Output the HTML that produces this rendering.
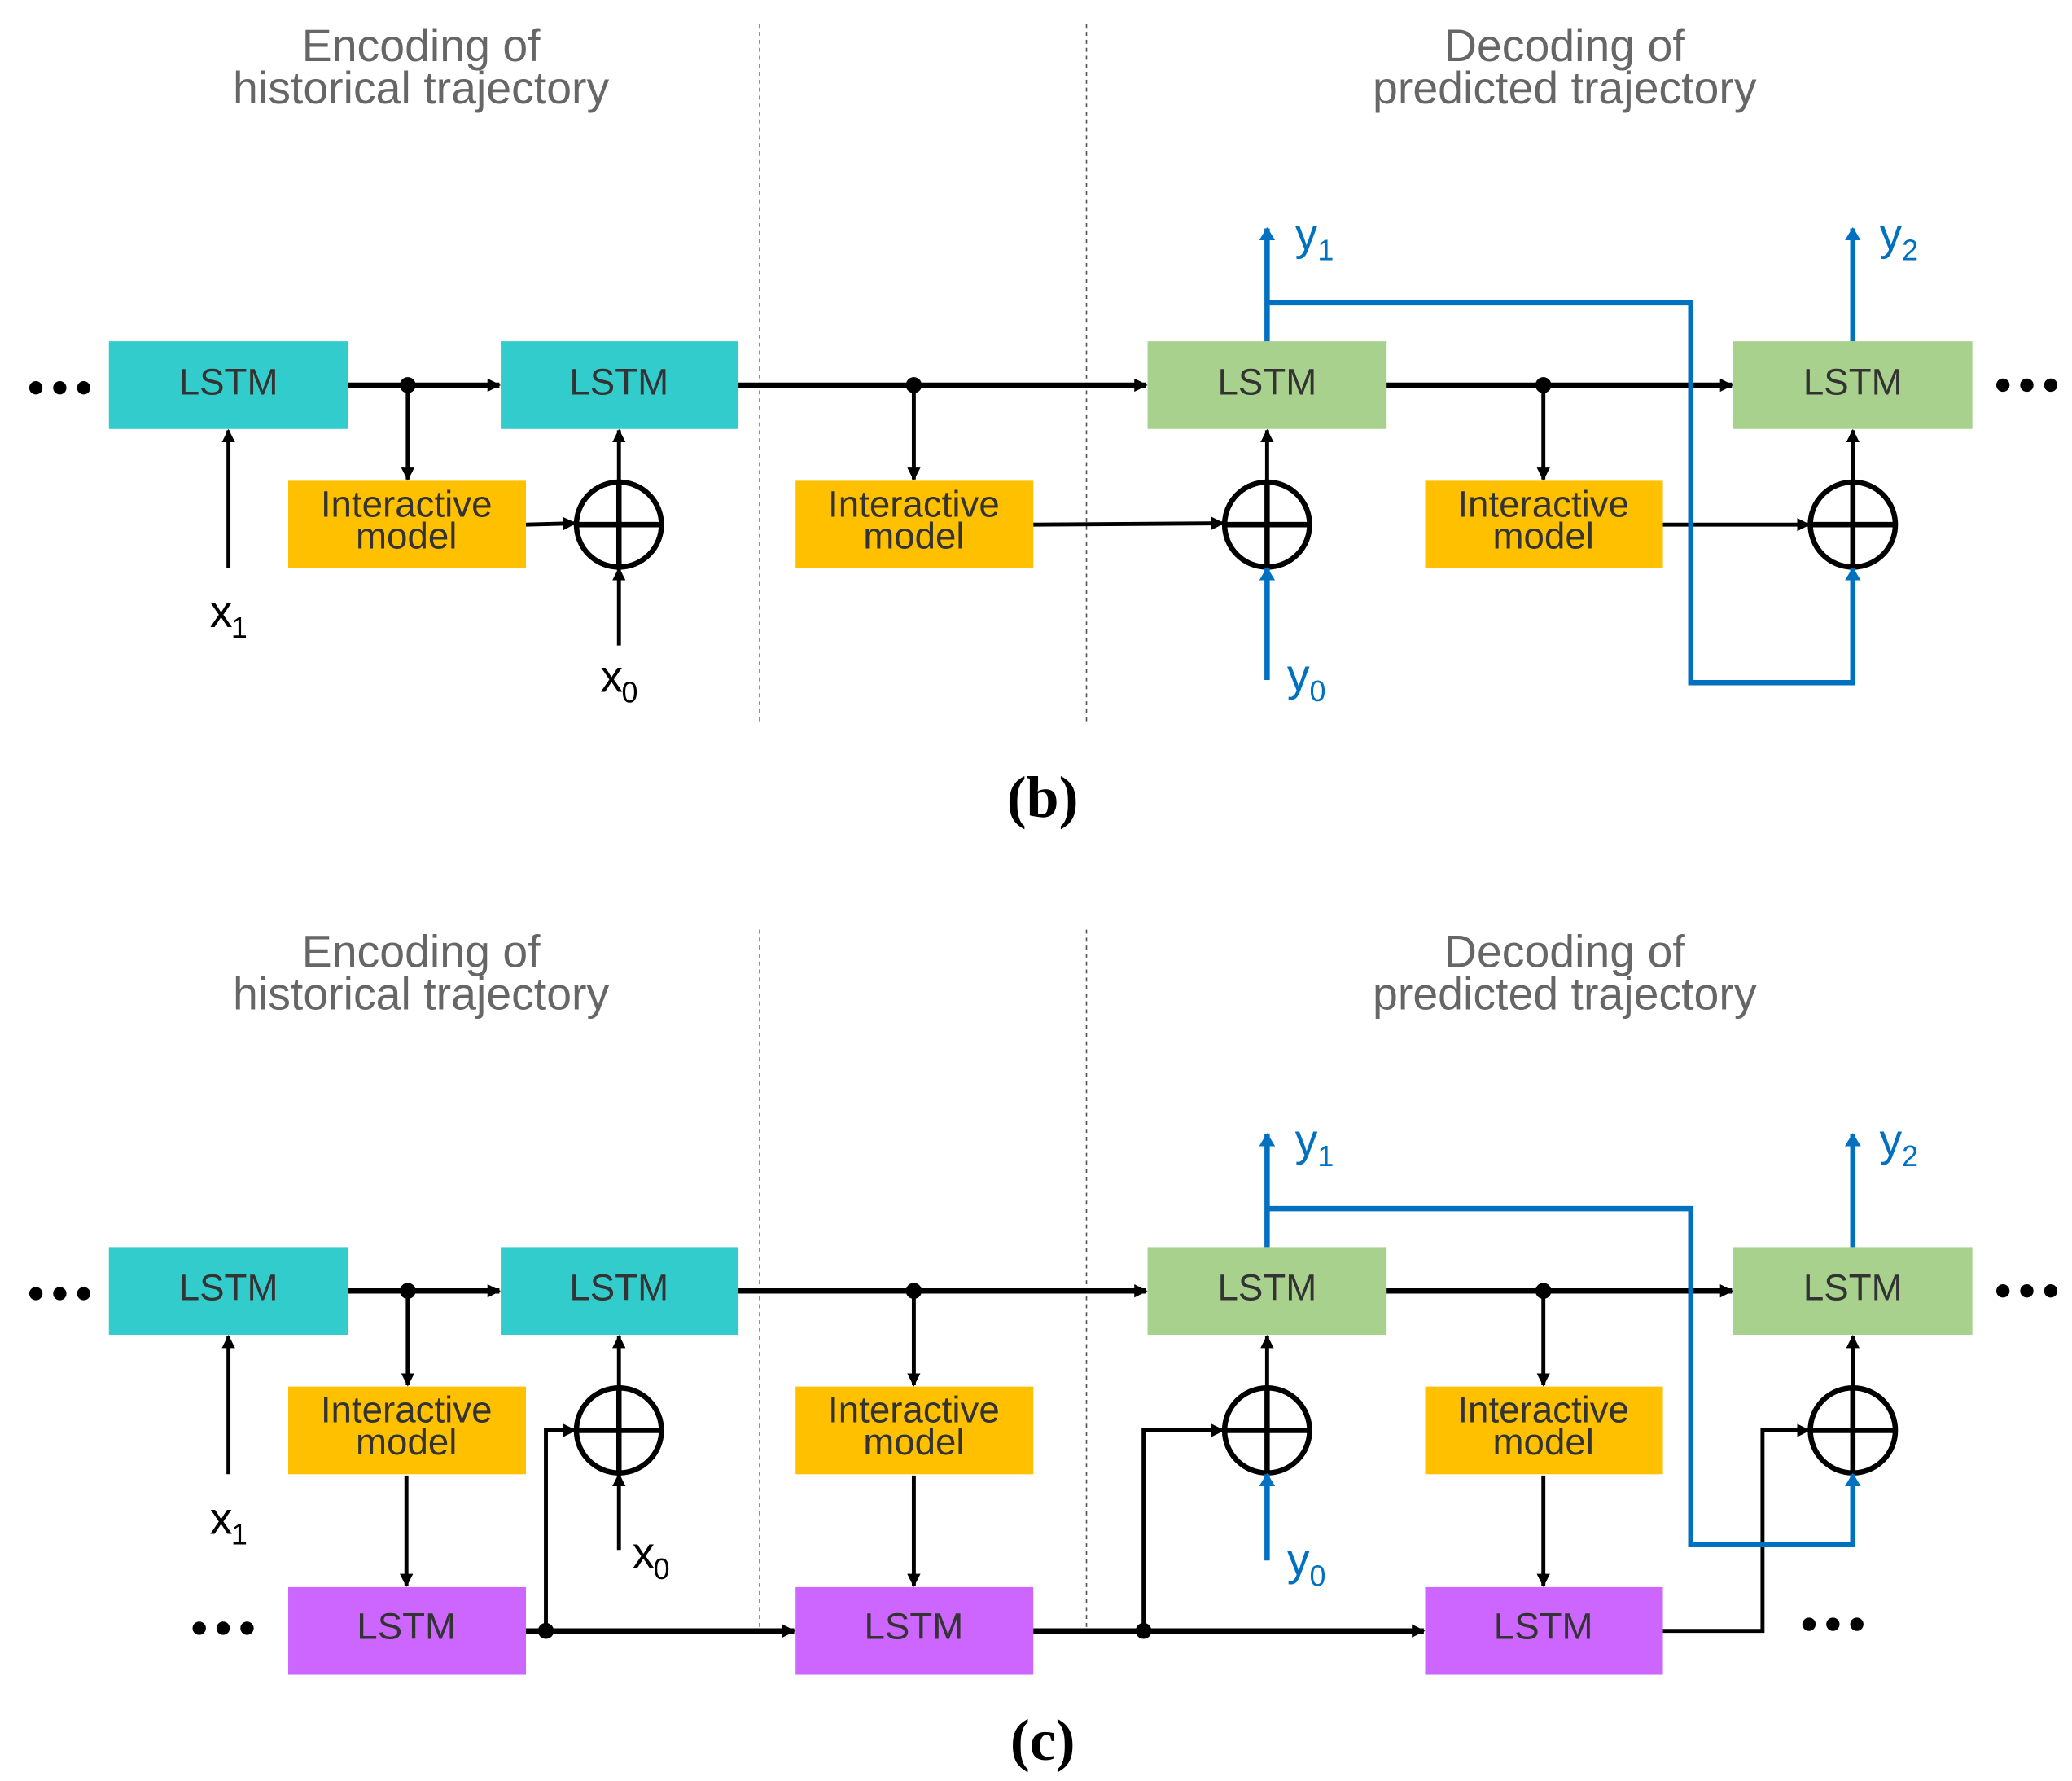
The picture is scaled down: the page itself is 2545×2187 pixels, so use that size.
<!DOCTYPE html>
<html><head><meta charset="utf-8"><style>html,body{margin:0;padding:0;background:#fff}svg{display:block}</style></head>
<body>
<svg width="2545" height="2187" viewBox="0 0 1560 1341" preserveAspectRatio="none" xmlns="http://www.w3.org/2000/svg" font-family="Liberation Sans, sans-serif">
<defs>
<marker id="ak" markerWidth="10" markerHeight="10" refX="9" refY="5" orient="auto" markerUnits="userSpaceOnUse"><path d="M0,0 L10,5 L0,10 Z" fill="#000"/></marker>
<marker id="ab" markerWidth="10" markerHeight="12" refX="9" refY="6" orient="auto" markerUnits="userSpaceOnUse"><path d="M0,0 L10,6 L0,12 Z" fill="#0070C0"/></marker>
</defs>
<rect width="1560" height="1341" fill="#fff"/>

<g id="panel">
<g fill="#666" font-size="34" text-anchor="middle">
<text x="317" y="46">Encoding of</text><text x="317" y="78">historical trajectory</text>
<text x="1178" y="46">Decoding of</text><text x="1178" y="78">predicted trajectory</text>
</g>
<g stroke="#555" stroke-width="1" stroke-dasharray="3,3"><line x1="572" y1="18" x2="572" y2="543"/><line x1="818" y1="18" x2="818" y2="543"/></g>
<rect x="82" y="257" width="180" height="66" fill="#33CCCC"/>
<rect x="377" y="257" width="179" height="66" fill="#33CCCC"/>
<rect x="864" y="257" width="180" height="66" fill="#A9D18E"/>
<rect x="1305" y="257" width="180" height="66" fill="#A9D18E"/>
<g fill="#FFC000"><rect x="217" y="362" width="179" height="66"/><rect x="599" y="362" width="179" height="66"/><rect x="1073" y="362" width="179" height="66"/></g>
<g fill="#333" font-size="28" text-anchor="middle">
<text x="172" y="297">LSTM</text><text x="466" y="297">LSTM</text><text x="954" y="297">LSTM</text><text x="1395" y="297">LSTM</text>
</g>
<g fill="#333" font-size="28" text-anchor="middle">
<text x="306" y="389">Interactive</text><text x="306" y="413">model</text>
<text x="688" y="389">Interactive</text><text x="688" y="413">model</text>
<text x="1162" y="389">Interactive</text><text x="1162" y="413">model</text>
</g>
<g fill="#000"><circle cx="27" cy="292" r="5"/><circle cx="45" cy="292" r="5"/><circle cx="63" cy="292" r="5"/>
<circle cx="1508" cy="290" r="5"/><circle cx="1526" cy="290" r="5"/><circle cx="1544" cy="290" r="5"/></g>
<g stroke="#000" stroke-width="4" fill="none" marker-end="url(#ak)">
<line x1="262" y1="290" x2="376" y2="290"/><line x1="556" y1="290" x2="863" y2="290"/><line x1="1044" y1="290" x2="1304" y2="290"/>
</g>
<g stroke="#000" stroke-width="3" fill="none" marker-end="url(#ak)">
<line x1="307" y1="290" x2="307" y2="361"/><line x1="688" y1="290" x2="688" y2="361"/><line x1="1162" y1="290" x2="1162" y2="361"/>
<line x1="466" y1="363" x2="466" y2="324"/><line x1="954" y1="363" x2="954" y2="324"/><line x1="1395" y1="363" x2="1395" y2="324"/>
</g>
<g fill="#000"><circle cx="307" cy="290" r="6"/><circle cx="688" cy="290" r="6"/><circle cx="1162" cy="290" r="6"/></g>
<g stroke="#000" stroke-width="4" fill="none">
<circle cx="466" cy="395" r="32"/><line x1="434" y1="395" x2="498" y2="395"/><line x1="466" y1="363" x2="466" y2="427"/>
<circle cx="954" cy="395" r="32"/><line x1="922" y1="395" x2="986" y2="395"/><line x1="954" y1="363" x2="954" y2="427"/>
<circle cx="1395" cy="395" r="32"/><line x1="1363" y1="395" x2="1427" y2="395"/><line x1="1395" y1="363" x2="1395" y2="427"/>
</g>
</g>

<g stroke="#000" stroke-width="3" fill="none" marker-end="url(#ak)">
<line x1="396" y1="395" x2="433" y2="394"/><line x1="778" y1="395" x2="921" y2="394"/><line x1="1252" y1="395" x2="1362" y2="395"/>
<line x1="172" y1="428" x2="172" y2="324"/><line x1="466" y1="486" x2="466" y2="428"/>
</g>
<g stroke="#0070C0" stroke-width="4" fill="none">
<line x1="954" y1="512" x2="954" y2="428" marker-end="url(#ab)"/>
<line x1="954" y1="257" x2="954" y2="172" marker-end="url(#ab)"/>
<line x1="1395" y1="257" x2="1395" y2="172" marker-end="url(#ab)"/>
<polyline points="954,228 1273,228 1273,514 1395,514 1395,428" marker-end="url(#ab)"/>
</g>
<g font-size="34" fill="#000"><text x="158" y="472">x</text><text x="174" y="480" font-size="22">1</text><text x="452" y="521">x</text><text x="468" y="529" font-size="22">0</text></g>
<g font-size="34" fill="#0070C0"><text x="969" y="520">y</text><text x="986" y="528" font-size="22">0</text><text x="975" y="188">y</text><text x="992" y="196" font-size="22">1</text><text x="1415" y="188">y</text><text x="1432" y="196" font-size="22">2</text></g>
<text x="785" y="615" font-family="Liberation Serif, serif" font-weight="bold" font-size="44" text-anchor="middle">(b)</text>

<use href="#panel" y="682"/>
<g fill="#CC66FF"><rect x="217" y="1195" width="179" height="66"/><rect x="599" y="1195" width="179" height="66"/><rect x="1073" y="1195" width="179" height="66"/></g>
<g fill="#333" font-size="28" text-anchor="middle"><text x="306" y="1234">LSTM</text><text x="688" y="1234">LSTM</text><text x="1162" y="1234">LSTM</text></g>
<g fill="#000"><circle cx="150" cy="1226" r="5"/><circle cx="168" cy="1226" r="5"/><circle cx="186" cy="1226" r="5"/>
<circle cx="1362" cy="1223" r="5"/><circle cx="1380" cy="1223" r="5"/><circle cx="1398" cy="1223" r="5"/></g>
<g stroke="#000" stroke-width="3" fill="none" marker-end="url(#ak)">
<line x1="306" y1="1111" x2="306" y2="1194"/><line x1="688" y1="1111" x2="688" y2="1194"/><line x1="1162" y1="1111" x2="1162" y2="1194"/>
<line x1="172" y1="1110" x2="172" y2="1006"/><line x1="466" y1="1167" x2="466" y2="1110"/>
<polyline points="411,1228 411,1077 433,1077"/>
<polyline points="861,1228 861,1077 921,1077"/>
<polyline points="1252,1228 1327,1228 1327,1077 1362,1077"/>
</g>
<g stroke="#000" stroke-width="4" fill="none" marker-end="url(#ak)">
<line x1="396" y1="1228" x2="598" y2="1228"/><line x1="778" y1="1228" x2="1072" y2="1228"/>
</g>
<g fill="#000"><circle cx="411" cy="1228" r="6"/><circle cx="861" cy="1228" r="6"/></g>
<g stroke="#0070C0" stroke-width="4" fill="none">
<line x1="954" y1="1175" x2="954" y2="1110" marker-end="url(#ab)"/>
<line x1="954" y1="939" x2="954" y2="854" marker-end="url(#ab)"/>
<line x1="1395" y1="939" x2="1395" y2="854" marker-end="url(#ab)"/>
<polyline points="954,910 1273,910 1273,1163 1395,1163 1395,1110" marker-end="url(#ab)"/>
</g>
<g font-size="34" fill="#000"><text x="158" y="1155">x</text><text x="174" y="1163" font-size="22">1</text><text x="476" y="1181">x</text><text x="492" y="1189" font-size="22">0</text></g>
<g font-size="34" fill="#0070C0"><text x="969" y="1186">y</text><text x="986" y="1194" font-size="22">0</text><text x="975" y="870">y</text><text x="992" y="878" font-size="22">1</text><text x="1415" y="870">y</text><text x="1432" y="878" font-size="22">2</text></g>
<text x="785" y="1325" font-family="Liberation Serif, serif" font-weight="bold" font-size="44" text-anchor="middle">(c)</text>
</svg>
</body></html>
